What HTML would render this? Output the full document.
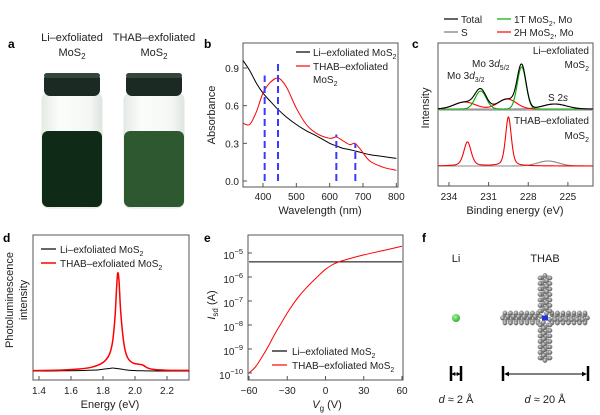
<!DOCTYPE html>
<html><head><meta charset="utf-8"><style>
html,body{margin:0;padding:0;background:#fff;}
svg{display:block;font-family:"Liberation Sans",Arial,sans-serif;}
text{fill:#222;}
.t{font-size:10px;}
.lab{font-size:11px;}
.pl{font-size:12px;font-weight:bold;fill:#000;}
</style></head><body>
<svg id="fig" width="600" height="415" viewBox="0 0 600 415" xmlns="http://www.w3.org/2000/svg">
<defs>
<radialGradient id="atom" cx="40%" cy="35%" r="65%"><stop offset="0" stop-color="#ddd"/><stop offset="1" stop-color="#555"/></radialGradient>
<radialGradient id="li" cx="40%" cy="35%" r="65%"><stop offset="0" stop-color="#9f9"/><stop offset="1" stop-color="#3a3"/></radialGradient>
<linearGradient id="glass" x1="0" x2="1"><stop offset="0" stop-color="#e6ebe6"/><stop offset="0.3" stop-color="#fbfdfb"/><stop offset="0.8" stop-color="#f4f7f4"/><stop offset="1" stop-color="#dfe4df"/></linearGradient>
<marker id="ar" viewBox="0 0 6 6" refX="5" refY="3" markerWidth="5" markerHeight="5" orient="auto-start-reverse"><path d="M0,0L6,3L0,6z" fill="#000"/></marker>
</defs>

<!-- Panel a -->
<g>
<text class="pl" x="8" y="48">a</text>
<text class="lab" x="72" y="41" text-anchor="middle">Li–exfoliated</text>
<text class="lab" x="72" y="56" text-anchor="middle">MoS<tspan font-size="8" dy="3">2</tspan></text>
<text class="lab" x="154" y="41" text-anchor="middle">THAB–exfoliated</text>
<text class="lab" x="154" y="56" text-anchor="middle">MoS<tspan font-size="8" dy="3">2</tspan></text>
<g>
<rect x="42" y="93" width="60" height="115" rx="7" fill="url(#glass)" stroke="#e2e6e2"/>
<rect x="42" y="131" width="60" height="76" rx="6" fill="#0f2a17"/>
<rect x="44" y="73" width="56" height="23" rx="6" fill="#1b2a22"/>
<rect x="44" y="73" width="56" height="5" rx="3" fill="#34453b"/>
</g>
<g>
<rect x="124" y="93" width="60" height="115" rx="7" fill="url(#glass)" stroke="#e2e6e2"/>
<rect x="124" y="131" width="60" height="76" rx="6" fill="#2e5830"/>
<rect x="126" y="73" width="56" height="23" rx="6" fill="#1b2a22"/>
<rect x="126" y="73" width="56" height="5" rx="3" fill="#34453b"/>
</g>
</g>

<!-- Panel b -->
<g>
<text class="pl" x="204" y="48">b</text>
<rect x="243" y="43" width="155" height="144" fill="none" stroke="#555"/>
<g id="bTicks"></g>
<g id="bMarks"></g>
<text class="lab" transform="translate(215,115) rotate(-90)" text-anchor="middle">Absorbance</text>
<text class="lab" x="320" y="214" text-anchor="middle">Wavelength (nm)</text>
<line x1="296" y1="52" x2="310" y2="52" stroke="#000" stroke-width="1.2"/>
<text class="t" x="313" y="56">Li–exfoliated MoS<tspan font-size="7" dy="3">2</tspan></text>
<line x1="296" y1="66" x2="310" y2="66" stroke="#f00" stroke-width="1.2"/>
<text class="t" x="313" y="70">THAB–exfoliated</text>
<text class="t" x="313" y="83">MoS<tspan font-size="7" dy="3">2</tspan></text>
</g>

<!-- Panel c -->
<g>
<text class="pl" x="412" y="48">c</text>
<line x1="444" y1="19" x2="458" y2="19" stroke="#000" stroke-width="1.2"/>
<text class="t" x="461" y="23">Total</text>
<line x1="444" y1="32" x2="458" y2="32" stroke="#777" stroke-width="1.2"/>
<text class="t" x="461" y="36">S</text>
<line x1="497" y1="19" x2="511" y2="19" stroke="#0a0" stroke-width="1.2"/>
<text class="t" x="514" y="23">1T MoS<tspan font-size="7" dy="3">2</tspan><tspan dy="-3">, Mo</tspan></text>
<line x1="497" y1="32" x2="511" y2="32" stroke="#f00" stroke-width="1.2"/>
<text class="t" x="514" y="36">2H MoS<tspan font-size="7" dy="3">2</tspan><tspan dy="-3">, Mo</tspan></text>
<rect x="438" y="43" width="155" height="143" fill="none" stroke="#555"/>
<line x1="438" y1="110" x2="593" y2="110" stroke="#aaa" stroke-width="1.5"/>
<g id="cTicks"></g>
<g id="cMarks"></g>
<text class="t" x="589" y="54" text-anchor="end">Li–exfoliated</text>
<text class="t" x="589" y="68" text-anchor="end">MoS<tspan font-size="7" dy="3">2</tspan></text>
<text class="t" x="472" y="67">Mo 3<tspan font-style="italic">d</tspan><tspan font-size="7" dy="3">5/2</tspan></text>
<text class="t" x="447" y="79">Mo 3<tspan font-style="italic">d</tspan><tspan font-size="7" dy="3">3/2</tspan></text>
<text class="t" x="548" y="101">S 2<tspan font-style="italic">s</tspan></text>
<text class="t" x="589" y="124" text-anchor="end">THAB–exfoliated</text>
<text class="t" x="589" y="139" text-anchor="end">MoS<tspan font-size="7" dy="3">2</tspan></text>
<text class="lab" transform="translate(429,108) rotate(-90)" text-anchor="middle">Intensity</text>
<text class="lab" x="515" y="214" text-anchor="middle">Binding energy (eV)</text>
</g>

<!-- Panel d -->
<g>
<text class="pl" x="3" y="242">d</text>
<rect x="33" y="235" width="156" height="145" fill="none" stroke="#555"/>
<g id="dTicks"></g>
<g id="dMarks"></g>
<line x1="41" y1="249" x2="56" y2="249" stroke="#000" stroke-width="1.2"/>
<text class="t" x="60" y="253">Li–exfoliated MoS<tspan font-size="7" dy="3">2</tspan></text>
<line x1="41" y1="263" x2="56" y2="263" stroke="#f00" stroke-width="1.5"/>
<text class="t" x="60" y="267">THAB–exfoliated MoS<tspan font-size="7" dy="3">2</tspan></text>
<text class="lab" transform="translate(13,300) rotate(-90)" text-anchor="middle">Photoluminescence</text>
<text class="lab" transform="translate(27,300) rotate(-90)" text-anchor="middle">intensity</text>
<text class="lab" x="110" y="408" text-anchor="middle">Energy (eV)</text>
</g>

<!-- Panel e -->
<g>
<text class="pl" x="204" y="242">e</text>
<rect x="248" y="235" width="155" height="145" fill="none" stroke="#555"/>
<g id="eTicks"></g>
<g id="eMarks"></g>
<line x1="272" y1="351" x2="287" y2="351" stroke="#000" stroke-width="1.2"/>
<text class="t" x="292" y="355">Li–exfoliated MoS<tspan font-size="7" dy="3">2</tspan></text>
<line x1="272" y1="365" x2="287" y2="365" stroke="#f00" stroke-width="1.2"/>
<text class="t" x="292" y="369">THAB–exfoliated MoS<tspan font-size="7" dy="3">2</tspan></text>
<text class="lab" transform="translate(215,305) rotate(-90)" text-anchor="middle"><tspan font-style="italic">I</tspan><tspan font-size="8" dy="3">sd</tspan><tspan dy="-3"> (A)</tspan></text>
<text class="lab" x="327" y="408" text-anchor="middle"><tspan font-style="italic">V</tspan><tspan font-size="8" dy="3">g</tspan><tspan dy="-3"> (V)</tspan></text>
</g>

<!-- Panel f -->
<g>
<text class="pl" x="422" y="242">f</text>
<text class="lab" x="456" y="262" text-anchor="middle">Li</text>
<text class="lab" x="545" y="262" text-anchor="middle">THAB</text>
<circle cx="456" cy="318" r="4" fill="url(#li)"/>
<g id="thab"></g>
<line x1="451" y1="366" x2="451" y2="381" stroke="#000" stroke-width="2.5"/>
<line x1="461" y1="366" x2="461" y2="381" stroke="#000" stroke-width="2.5"/>
<line x1="452" y1="374" x2="460" y2="374" stroke="#000" stroke-width="0.8" marker-start="url(#ar)" marker-end="url(#ar)"/>
<line x1="503" y1="366" x2="503" y2="381" stroke="#000" stroke-width="2.5"/>
<line x1="588" y1="366" x2="588" y2="381" stroke="#000" stroke-width="2.5"/>
<line x1="505" y1="374" x2="586" y2="374" stroke="#000" stroke-width="1" marker-start="url(#ar)" marker-end="url(#ar)"/>
<text class="lab" x="456" y="403" text-anchor="middle"><tspan font-style="italic">d</tspan> ≈ 2 Å</text>
<text class="lab" x="545" y="403" text-anchor="middle"><tspan font-style="italic">d</tspan> ≈ 20 Å</text>
</g>
</svg>
<script>
// ---- Panel b data ----
const bWave = [340,360,380,400,420,445,470,500,530,560,600,620,640,660,675,690,720,760,800];
const bLi   = [0.96,0.88,0.78,0.70,0.64,0.57,0.51,0.45,0.40,0.36,0.30,0.28,0.26,0.25,0.24,0.23,0.21,0.195,0.18];
const bThab = [0.46,0.45,0.55,0.70,0.78,0.82,0.75,0.58,0.45,0.38,0.34,0.35,0.32,0.29,0.30,0.26,0.16,0.11,0.085];
const bDashX = [405,445,620,677];
const bDashTop = [0.84,0.95,0.37,0.30];
const bXTicks = [400,500,600,700,800];
const bYTicks = [0.0,0.3,0.6,0.9];
// ---- Panel c data ----
const cCenters1T = [231.6,228.5];
const cAmps1T = [18,42];
const cWid1T = [0.42,0.33];
const cCenters2H = [232.8,229.6];
const cAmps2H = [7,10];
const cWid2H = [0.8,0.7];
const cS2s = [226.0,5,0.9];
const cThabCenters = [232.6,229.5];
const cThabAmps = [24,49];
const cThabWid = [0.28,0.22];
const cThabS = [226.5,5,0.8];
const cXTicks = [234,231,228,225];
// ---- Panel d data ----
const dE = [1.36,1.45,1.55,1.65,1.72,1.77,1.81,1.84,1.86,1.875,1.885,1.892,1.90,1.91,1.925,1.94,1.96,1.99,2.02,2.05,2.08,2.12,2.2,2.34];
const dThab = [0.4,0.6,1.0,2.0,3.5,6,10,17,30,55,85,100,92,62,35,20,12,8,7,6,3,1.5,0.8,0.6];
const dLi   = [0,0,0.2,0.4,0.8,1.2,2.0,2.6,3.0,2.8,2.6,2.4,2.3,2.0,1.6,1.2,0.8,0.5,0.3,0.2,0.1,0,0,0];
const dXTicks = [1.4,1.6,1.8,2.0,2.2];
// ---- Panel e data ----
const eVg = [-60,-55,-50,-45,-40,-35,-30,-25,-20,-15,-10,-5,0,5,10,20,30,45,60];
const eThabLog = [-10,-9.75,-9.35,-8.9,-8.4,-7.95,-7.5,-7.1,-6.75,-6.45,-6.18,-5.92,-5.68,-5.5,-5.38,-5.22,-5.08,-4.9,-4.72];
const eLiVg = [-60,60];
const eLiLog = [-5.37,-5.37];
const eXTicks = [-60,-30,0,30,60];
const eYTicks = [-10,-9,-8,-7,-6,-5];

const NS="http://www.w3.org/2000/svg";
function mk(parent,tag,attrs){const e=document.createElementNS(NS,tag);for(const k in attrs)e.setAttribute(k,attrs[k]);parent.appendChild(e);return e;}
function smooth(pts){let d="M"+pts[0][0].toFixed(2)+","+pts[0][1].toFixed(2);
 for(let i=0;i<pts.length-1;i++){const p0=pts[Math.max(0,i-1)],p1=pts[i],p2=pts[i+1],p3=pts[Math.min(pts.length-1,i+2)];
  const c1=[p1[0]+(p2[0]-p0[0])/6,p1[1]+(p2[1]-p0[1])/6],c2=[p2[0]-(p3[0]-p1[0])/6,p2[1]-(p3[1]-p1[1])/6];
  d+="C"+c1.map(v=>v.toFixed(2))+" "+c2.map(v=>v.toFixed(2))+" "+p2.map(v=>v.toFixed(2));}
 return d;}
function lin(d0,d1,r0,r1){return v=>r0+(v-d0)/(d1-d0)*(r1-r0);}

// Panel b
{const x=lin(340,805,243,398),y=lin(0,0.9,181,68);
 const T=document.getElementById('bTicks'),M=document.getElementById('bMarks');
 bXTicks.forEach(v=>{mk(T,'line',{x1:x(v),x2:x(v),y1:187,y2:183,stroke:'#555'});
  const t=mk(T,'text',{x:x(v),y:200,'text-anchor':'middle',class:'t'});t.textContent=v;
  
  });
 bYTicks.forEach(v=>{mk(T,'line',{x1:243,x2:247,y1:y(v),y2:y(v),stroke:'#555'});
  const t=mk(T,'text',{x:239,y:y(v)+4,'text-anchor':'end',class:'t'});t.textContent=v.toFixed(1);
  
  });
 const li=mk(M,'path',{d:smooth(bWave.map((w,i)=>[x(w),y(bLi[i])])),fill:'none',stroke:'#000','stroke-width':1});
 
 
 const th=mk(M,'path',{d:smooth(bWave.map((w,i)=>[x(w),y(bThab[i])])),fill:'none',stroke:'#f00','stroke-width':1});
 
 
 bDashX.forEach((w,i)=>{const l=mk(M,'line',{x1:x(w),x2:x(w),y1:y(0),y2:y(bDashTop[i]),stroke:'#3a3aff','stroke-width':2,'stroke-dasharray':'7,4'});
  
  });
}
// Panel c
{const x=lin(234.83,223.1,438,593);
 const T=document.getElementById('cTicks'),M=document.getElementById('cMarks');
 cXTicks.forEach(v=>{mk(T,'line',{x1:x(v),x2:x(v),y1:186,y2:182,stroke:'#555'});
  const t=mk(T,'text',{x:x(v),y:200,'text-anchor':'middle',class:'t'});t.textContent=v;
  
  });
 const g=(e,c,a,w)=>a*Math.exp(-0.5*((e-c)/w)**2);
 const lor=(e,c,a,w)=>0.6*g(e,c,a,w)+0.4*a/(1+((e-c)/(w*1.18))**2);
 const N=300,Es=[];for(let i=0;i<=N;i++)Es.push(234.83-(234.83-223.1)*i/N);
 function draw(vals,base,col,name){const p=mk(M,'path',{d:"M"+Es.map((e,i)=>x(e).toFixed(2)+","+(base-vals[i]).toFixed(2)).join("L"),fill:'none',stroke:col,'stroke-width':1.1});
  
  }
 const u0=109;
 const s=Es.map(e=>g(e,cS2s[0],cS2s[1],cS2s[2]));
 const r=Es.map(e=>cCenters2H.reduce((a,c,k)=>a+g(e,c,cAmps2H[k],cWid2H[k]),0));
 const gr=Es.map(e=>cCenters1T.reduce((a,c,k)=>a+g(e,c,cAmps1T[k],cWid1T[k]),0));
 draw(s,u0,'#888','s-component-li');draw(r,u0,'#f00','2h-component-li');draw(gr,u0,'#0a0','1t-component-li');
 draw(Es.map((e,i)=>s[i]+r[i]+gr[i]),u0,'#000','total-li');
 const l0=166;
 const s2=Es.map(e=>g(e,cThabS[0],cThabS[1],cThabS[2]));
 const r2=Es.map(e=>cThabCenters.reduce((a,c,k)=>a+lor(e,c,cThabAmps[k],cThabWid[k]),0));
 draw(s2,l0,'#888','s-component-thab');draw(r2,l0,'#f00','2h-component-thab');
}
// Panel d
{const x=lin(1.3625,2.3375,33,189),y=lin(0,100,371,273);
 const T=document.getElementById('dTicks'),M=document.getElementById('dMarks');
 dXTicks.forEach(v=>{mk(T,'line',{x1:x(v),x2:x(v),y1:380,y2:376,stroke:'#555'});
  const t=mk(T,'text',{x:x(v),y:394,'text-anchor':'middle',class:'t'});t.textContent=v.toFixed(1);
  
  });
 const li=mk(M,'path',{d:smooth(dE.map((e,i)=>[x(e),y(dLi[i])])),fill:'none',stroke:'#000','stroke-width':1});
 
 
 const th=mk(M,'path',{d:smooth(dE.map((e,i)=>[x(e),y(dThab[i])])),fill:'none',stroke:'#f00','stroke-width':1.5});
 
 
}
// Panel e
{const x=lin(-60,60,249,402),y=lin(-5,-10,253,373);
 const T=document.getElementById('eTicks'),M=document.getElementById('eMarks');
 eXTicks.forEach(v=>{mk(T,'line',{x1:x(v),x2:x(v),y1:380,y2:376,stroke:'#555'});
  const t=mk(T,'text',{x:x(v),y:394,'text-anchor':'middle',class:'t'});t.textContent=(v<0?'−'+(-v):v);
  
  });
 eYTicks.forEach(v=>{mk(T,'line',{x1:248,x2:252,y1:y(v),y2:y(v),stroke:'#555'});
  const t=mk(T,'text',{x:243,y:y(v)+6,'text-anchor':'end',class:'t'});
  t.innerHTML='10<tspan font-size="7.5" dy="-5">−'+(-v)+'</tspan>';
  
  });
 const li=mk(M,'path',{d:smooth(eLiVg.map((v,i)=>[x(v),y(eLiLog[i])])),fill:'none',stroke:'#000','stroke-width':1});
 
 
 const th=mk(M,'path',{d:smooth(eVg.map((v,i)=>[x(v),y(eThabLog[i])])),fill:'none',stroke:'#f00','stroke-width':1});
 
 
}
// THAB molecule
{const G=document.getElementById('thab');const cx=545,cy=318;
 const atoms=[];
 for(let d=7;d<=40;d+=5.5){
  [[1,0],[-1,0],[0,1],[0,-1]].forEach(([ux,uy])=>{
   const px=cx+ux*d,py=cy+uy*d,vx=-uy,vy=ux;
   atoms.push([px+vx*3.2,py+vy*3.2],[px-vx*3.2,py-vy*3.2],[px+ux*2.5,py+uy*2.5],[px-ux*2.5+vx*1.5,py-uy*2.5+vy*1.5],[px+vx*5,py+vy*5],[px-vx*5,py-vy*5]);
  });}
 atoms.forEach(a=>mk(G,'circle',{cx:a[0],cy:a[1],r:2.2,fill:'url(#atom)',stroke:'#666','stroke-width':0.3}));
 mk(G,'rect',{x:cx-3,y:cy-2.5,width:6,height:5,fill:'#2233dd'});
}
</script>
</body></html>
